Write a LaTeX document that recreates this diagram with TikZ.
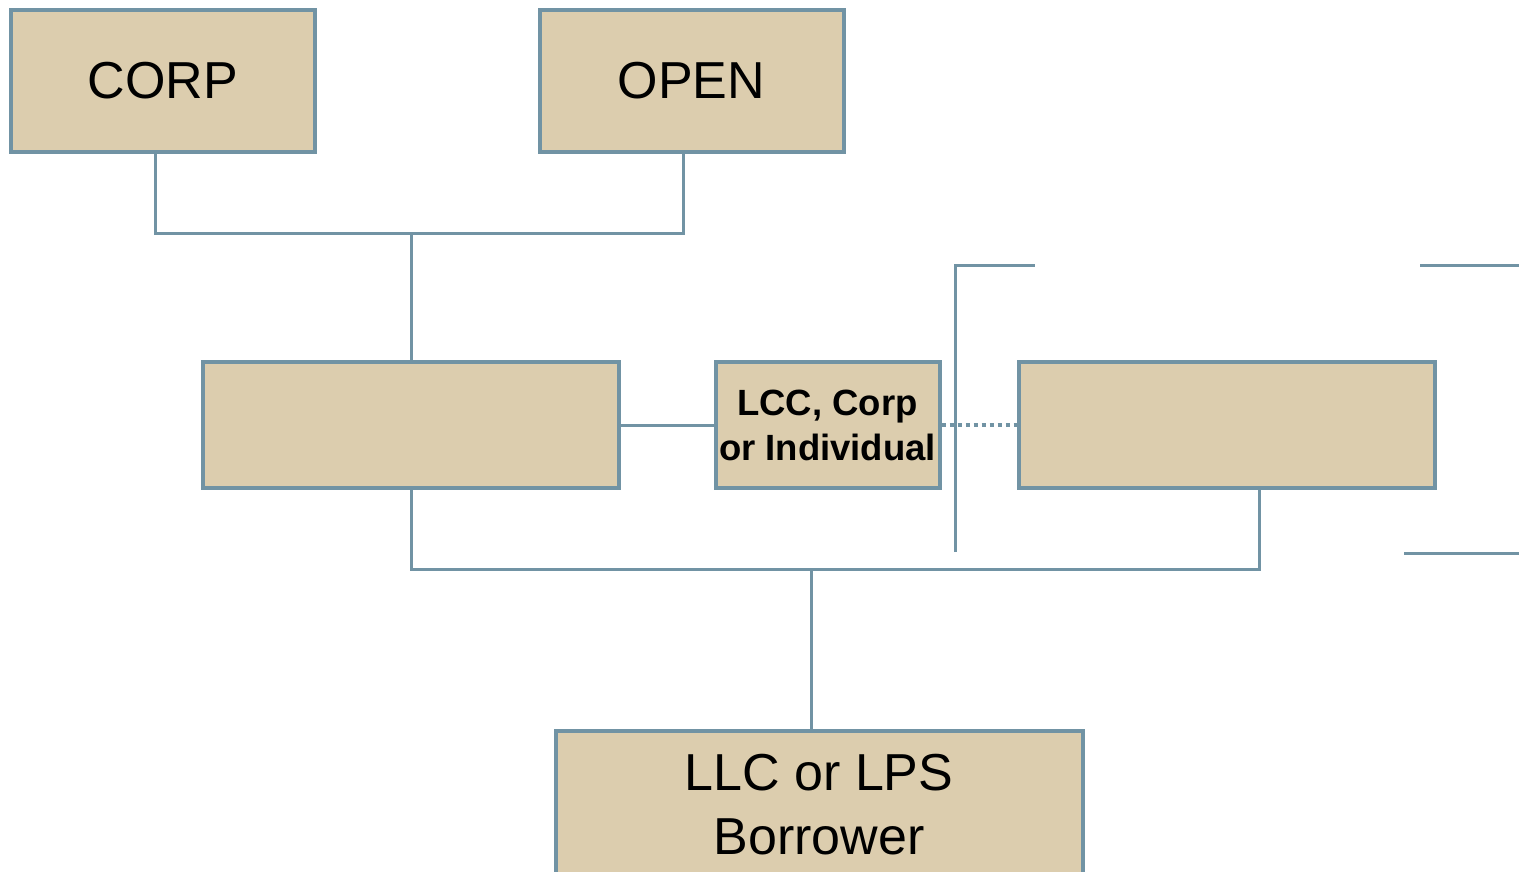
\documentclass[tikz,border=0pt]{standalone}
\usepackage{fontspec}
\setmainfont{Liberation Sans}
\begin{document}
\begin{tikzpicture}[x=1pt,y=-1pt,
  box/.style={draw=edge, fill=tan, line width=4pt, inner sep=0pt, align=center},
  big/.style={font=\fontsize{52}{64}\selectfont},
  small/.style={font=\fontsize{36.5}{45}\selectfont\bfseries},
  link/.style={draw=edge, line width=3pt},
  dots/.style={draw=edge, line width=3.5pt, dash pattern=on 4pt off 4pt}]
\definecolor{tan}{HTML}{DCCDAE}
\definecolor{edge}{HTML}{7193A4}
\useasboundingbox (0,0) rectangle (1519,872);
\clip (0,0) rectangle (1519,872);

% upper boxes
\node[box, big, minimum width=304pt, minimum height=142pt] (corp) at (163,81) {\raisebox{-2pt}{CORP}};
\node[box, big, minimum width=304pt, minimum height=142pt] (open) at (691.5,81) {\raisebox{-2pt}{OPEN}};

% middle row
\node[box, minimum width=416pt, minimum height=126pt] (mid) at (411,425) {};
\node[box, small, minimum width=224pt, minimum height=126pt] (ind) at (827.5,425) {LCC, Corp\\or Individual};
\node[box, minimum width=416pt, minimum height=126pt] (right) at (1227,425) {};

% borrower
\node[box, big, minimum width=527pt, minimum height=148pt, anchor=north] (borrower) at (819,729)
  {LLC or LPS\\Borrower};

% junction points
\coordinate (top) at (411,233);
\coordinate (low) at (811,569);

% upper tree
\draw[link] (corp.south -| 155,0) |- (top) -| (open.south -| 683,0);
\draw[link] (top) -- (mid.north);

% middle links
\draw[link] (mid.east) -- (ind.west);
\draw[dots] (ind.east) -- (right.west);

% lower tree
\draw[link] (mid.south) |- (low) -| (right.south -| 1259,0);
\draw[link] (low) -- (borrower.north -| low);

% bracket marks
\coordinate (bl1) at (955,552);
\coordinate (bl2) at (955,265);
\coordinate (bl3) at (1035,265);
\draw[link] (bl1) -- (bl2) -- (bl3);
\coordinate (br1) at (1420,265);
\coordinate (br2) at (1519,265);
\coordinate (br3) at (1404,553);
\coordinate (br4) at (1519,553);
\draw[link] (br1) -- (br2);
\draw[link] (br3) -- (br4);
\end{tikzpicture}
\end{document}
